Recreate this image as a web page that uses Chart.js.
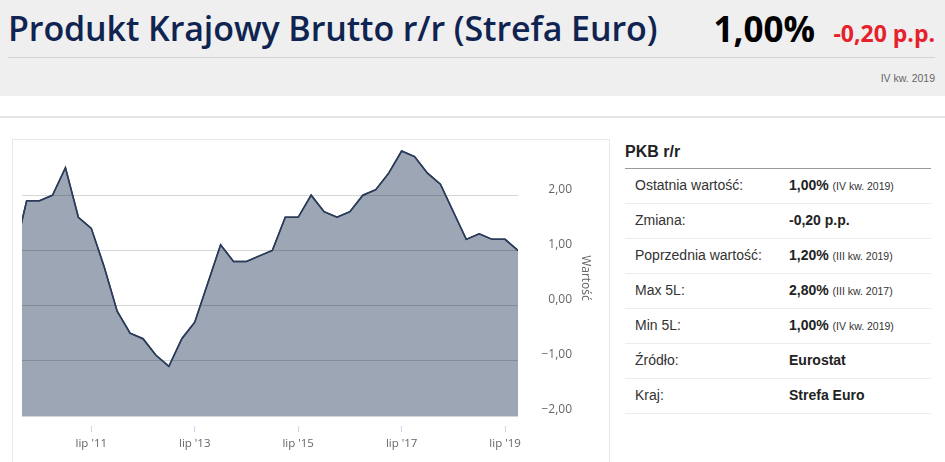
<!DOCTYPE html>
<html lang="pl">
<head>
<meta charset="utf-8">
<script src="https://cdn.jsdelivr.net/npm/chart.js@4/dist/chart.umd.min.js"></script>
<style>
  html, body { margin: 0; padding: 0; background: #fff; }
  body { width: 945px; height: 462px; position: relative; overflow: hidden; font-family: "Liberation Sans", Arial, sans-serif; }
  .head { position: absolute; left: 0; top: 0; width: 945px; height: 96px; background: #efefef; }
  .head div { line-height: normal; white-space: nowrap; }
  .title { position: absolute; left: 8px; top: 5px; font-family: "Open Sans", sans-serif; font-weight: 600; font-size: 34px; color: #0f2451; letter-spacing: -0.1px; }
  .big { position: absolute; right: 130px; top: 5px; font-family: "Open Sans", sans-serif; font-weight: 700; font-size: 35px; color: #000; }
  .chg { position: absolute; right: 10px; top: 17px; font-family: "Open Sans", sans-serif; font-weight: 700; font-size: 23px; color: #e6212b; }
  .hline { position: absolute; left: 8px; top: 57px; width: 927px; height: 1px; background: #d4d4d4; }
  .period { position: absolute; right: 10px; top: 72px; font-size: 10.5px; color: #666; }
  .sep { position: absolute; left: 0; top: 116px; width: 945px; height: 2px; background: #e6e6e6; }
  .box { position: absolute; left: 12px; top: 139px; width: 596px; height: 340px; border: 1px solid #e8e8e8; }
  .wrap { position: absolute; left: 12px; top: 140px; width: 597px; height: 322px; }
  .panel { position: absolute; left: 625px; top: 138px; width: 306px; }
  .panel h3 { margin: 0; font-size: 16px; font-weight: 700; color: #222; height: 30px; line-height: 28px; border-bottom: 1px solid #9a9a9a; }
  .row { height: 34px; border-bottom: 1.5px solid #ededed; font-size: 14px; color: #333; position: relative; }
  .row span { position: absolute; top: 8px; }
  .row .k { left: 10px; }
  .row .v { left: 164px; font-weight: 700; color: #222; }
  .row .v small { font-weight: 400; font-size: 10.5px; color: #333; }
</style>
</head>
<body>
<div class="head">
  <div class="title">Produkt Krajowy Brutto r/r (Strefa Euro)</div>
  <div class="big">1,00%</div>
  <div class="chg">-0,20 p.p.</div>
  <div class="hline"></div>
  <div class="period">IV kw. 2019</div>
</div>
<div class="sep"></div>
<div class="box"></div>
<div class="wrap"><canvas id="chart"></canvas></div>
<div class="panel" id="panel"><h3>PKB r/r</h3></div>

<script>
// kwartały od I kw. 2010 do IV kw. 2019
const quarters = [
  'I 2010', 'II 2010', 'III 2010', 'IV 2010',
  'I 2011', 'II 2011', 'III 2011', 'IV 2011',
  'I 2012', 'II 2012', 'III 2012', 'IV 2012',
  'I 2013', 'II 2013', 'III 2013', 'IV 2013',
  'I 2014', 'II 2014', 'III 2014', 'IV 2014',
  'I 2015', 'II 2015', 'III 2015', 'IV 2015',
  'I 2016', 'II 2016', 'III 2016', 'IV 2016',
  'I 2017', 'II 2017', 'III 2017', 'IV 2017',
  'I 2018', 'II 2018', 'III 2018', 'IV 2018',
  'I 2019', 'II 2019', 'III 2019', 'IV 2019'
];
const gdpValues = [
  0.9, 1.9, 1.9, 2.0,
  2.5, 1.6, 1.4, 0.7,
  -0.1, -0.5, -0.6, -0.9,
  -1.1, -0.6, -0.3, 0.4,
  1.1, 0.8, 0.8, 0.9,
  1.0, 1.6, 1.6, 2.0,
  1.7, 1.6, 1.7, 2.0,
  2.1, 2.4, 2.8, 2.7,
  2.4, 2.2, 1.7, 1.2,
  1.3, 1.2, 1.2, 1.0
];
// etykiety osi X (lipiec = III kw.)
const xTickQuarters = ['III 2011', 'III 2013', 'III 2015', 'III 2017', 'III 2019'];
const xTickLabels = ["lip '11", "lip '13", "lip '15", "lip '17", "lip '19"];
const yTicks = [-2, -1, 0, 1, 2];

const tableRows = [
  ['Ostatnia wartość:', '1,00%', '(IV kw. 2019)'],
  ['Zmiana:', '-0,20 p.p.', ''],
  ['Poprzednia wartość:', '1,20%', '(III kw. 2019)'],
  ['Max 5L:', '2,80%', '(III kw. 2017)'],
  ['Min 5L:', '1,00%', '(IV kw. 2019)'],
  ['Źródło:', 'Eurostat', ''],
  ['Kraj:', 'Strefa Euro', '']
];

const panel = document.getElementById('panel');
tableRows.forEach(r => {
  const div = document.createElement('div');
  div.className = 'row';
  div.innerHTML = '<span class="k">' + r[0] + '</span><span class="v">' + r[1] +
    (r[2] ? ' <small>' + r[2] + '</small>' : '') + '</span>';
  panel.appendChild(div);
});

const points = gdpValues.map((v, i) => ({ x: i, y: v }));
const fmt = v => (v < 0 ? '\u2212' : '') + Math.abs(v).toFixed(2).replace('.', ',');
const xFont = { family: '"Open Sans", sans-serif', size: 11.5 };
const yFont = { family: '"Open Sans", sans-serif', size: 12 };

// linia wykresu jeszcze raz, nad liniami siatki
const lineOnTop = {
  id: 'lineOnTop',
  afterDraw(chart) {
    const { ctx, chartArea } = chart;
    ctx.save();
    ctx.beginPath();
    ctx.rect(chartArea.left, chartArea.top, chartArea.width, chartArea.height);
    ctx.clip();
    chart.getDatasetMeta(0).controller.draw();
    ctx.restore();
  }
};

const ctx = document.getElementById('chart').getContext('2d');
new Chart(ctx, {
  type: 'line',
  data: {
    datasets: [{
      label: 'PKB r/r',
      data: points,
      borderColor: '#2b3b5a',
      borderWidth: 1.5,
      backgroundColor: '#9ca6b4',
      fill: 'start',
      tension: 0,
      pointRadius: 0
    }]
  },
  plugins: [lineOnTop],
  options: {
    animation: false,
    responsive: true,
    maintainAspectRatio: false,
    layout: { padding: { left: 10, right: 37, top: 0, bottom: 0 } },
    plugins: { legend: { display: false }, tooltip: { enabled: false } },
    scales: {
      x: {
        type: 'linear',
        min: 0.64,
        max: 39,
        afterBuildTicks: s => { s.ticks = xTickQuarters.map(q => ({ value: quarters.indexOf(q) })); },
        afterFit: s => { s.height = 46; s.paddingLeft = 0; s.paddingRight = 0; },
        ticks: {
          font: xFont,
          color: '#666',
          padding: 5,
          maxRotation: 0,
          autoSkip: false,
          callback: v => xTickLabels[xTickQuarters.indexOf(quarters[v])]
        },
        grid: {
          drawOnChartArea: false,
          color: '#ccd6eb',
          tickLength: 16,
          tickBorderDash: [0, 10, 6, 100]
        },
        border: { display: false }
      },
      y: {
        position: 'right',
        min: -2,
        max: 3,
        afterBuildTicks: s => { s.ticks = yTicks.map(v => ({ value: v })); },
        afterFit: s => { s.width = 54; s.paddingTop = 0; s.paddingBottom = 0; },
        ticks: {
          font: yFont,
          color: '#666',
          crossAlign: 'far',
          padding: 0,
          labelOffset: -6,
          callback: v => fmt(v)
        },
        // linie siatki rysowane nad wypełnieniem
        grid: { color: 'rgba(0,0,0,0.16)', drawTicks: false, z: 1 },
        border: { display: false },
        title: {
          display: true,
          text: 'Wartość',
          font: yFont,
          color: '#666',
          padding: { top: -20.2 }
        }
      }
    }
  }
});
</script>
</body>
</html>
